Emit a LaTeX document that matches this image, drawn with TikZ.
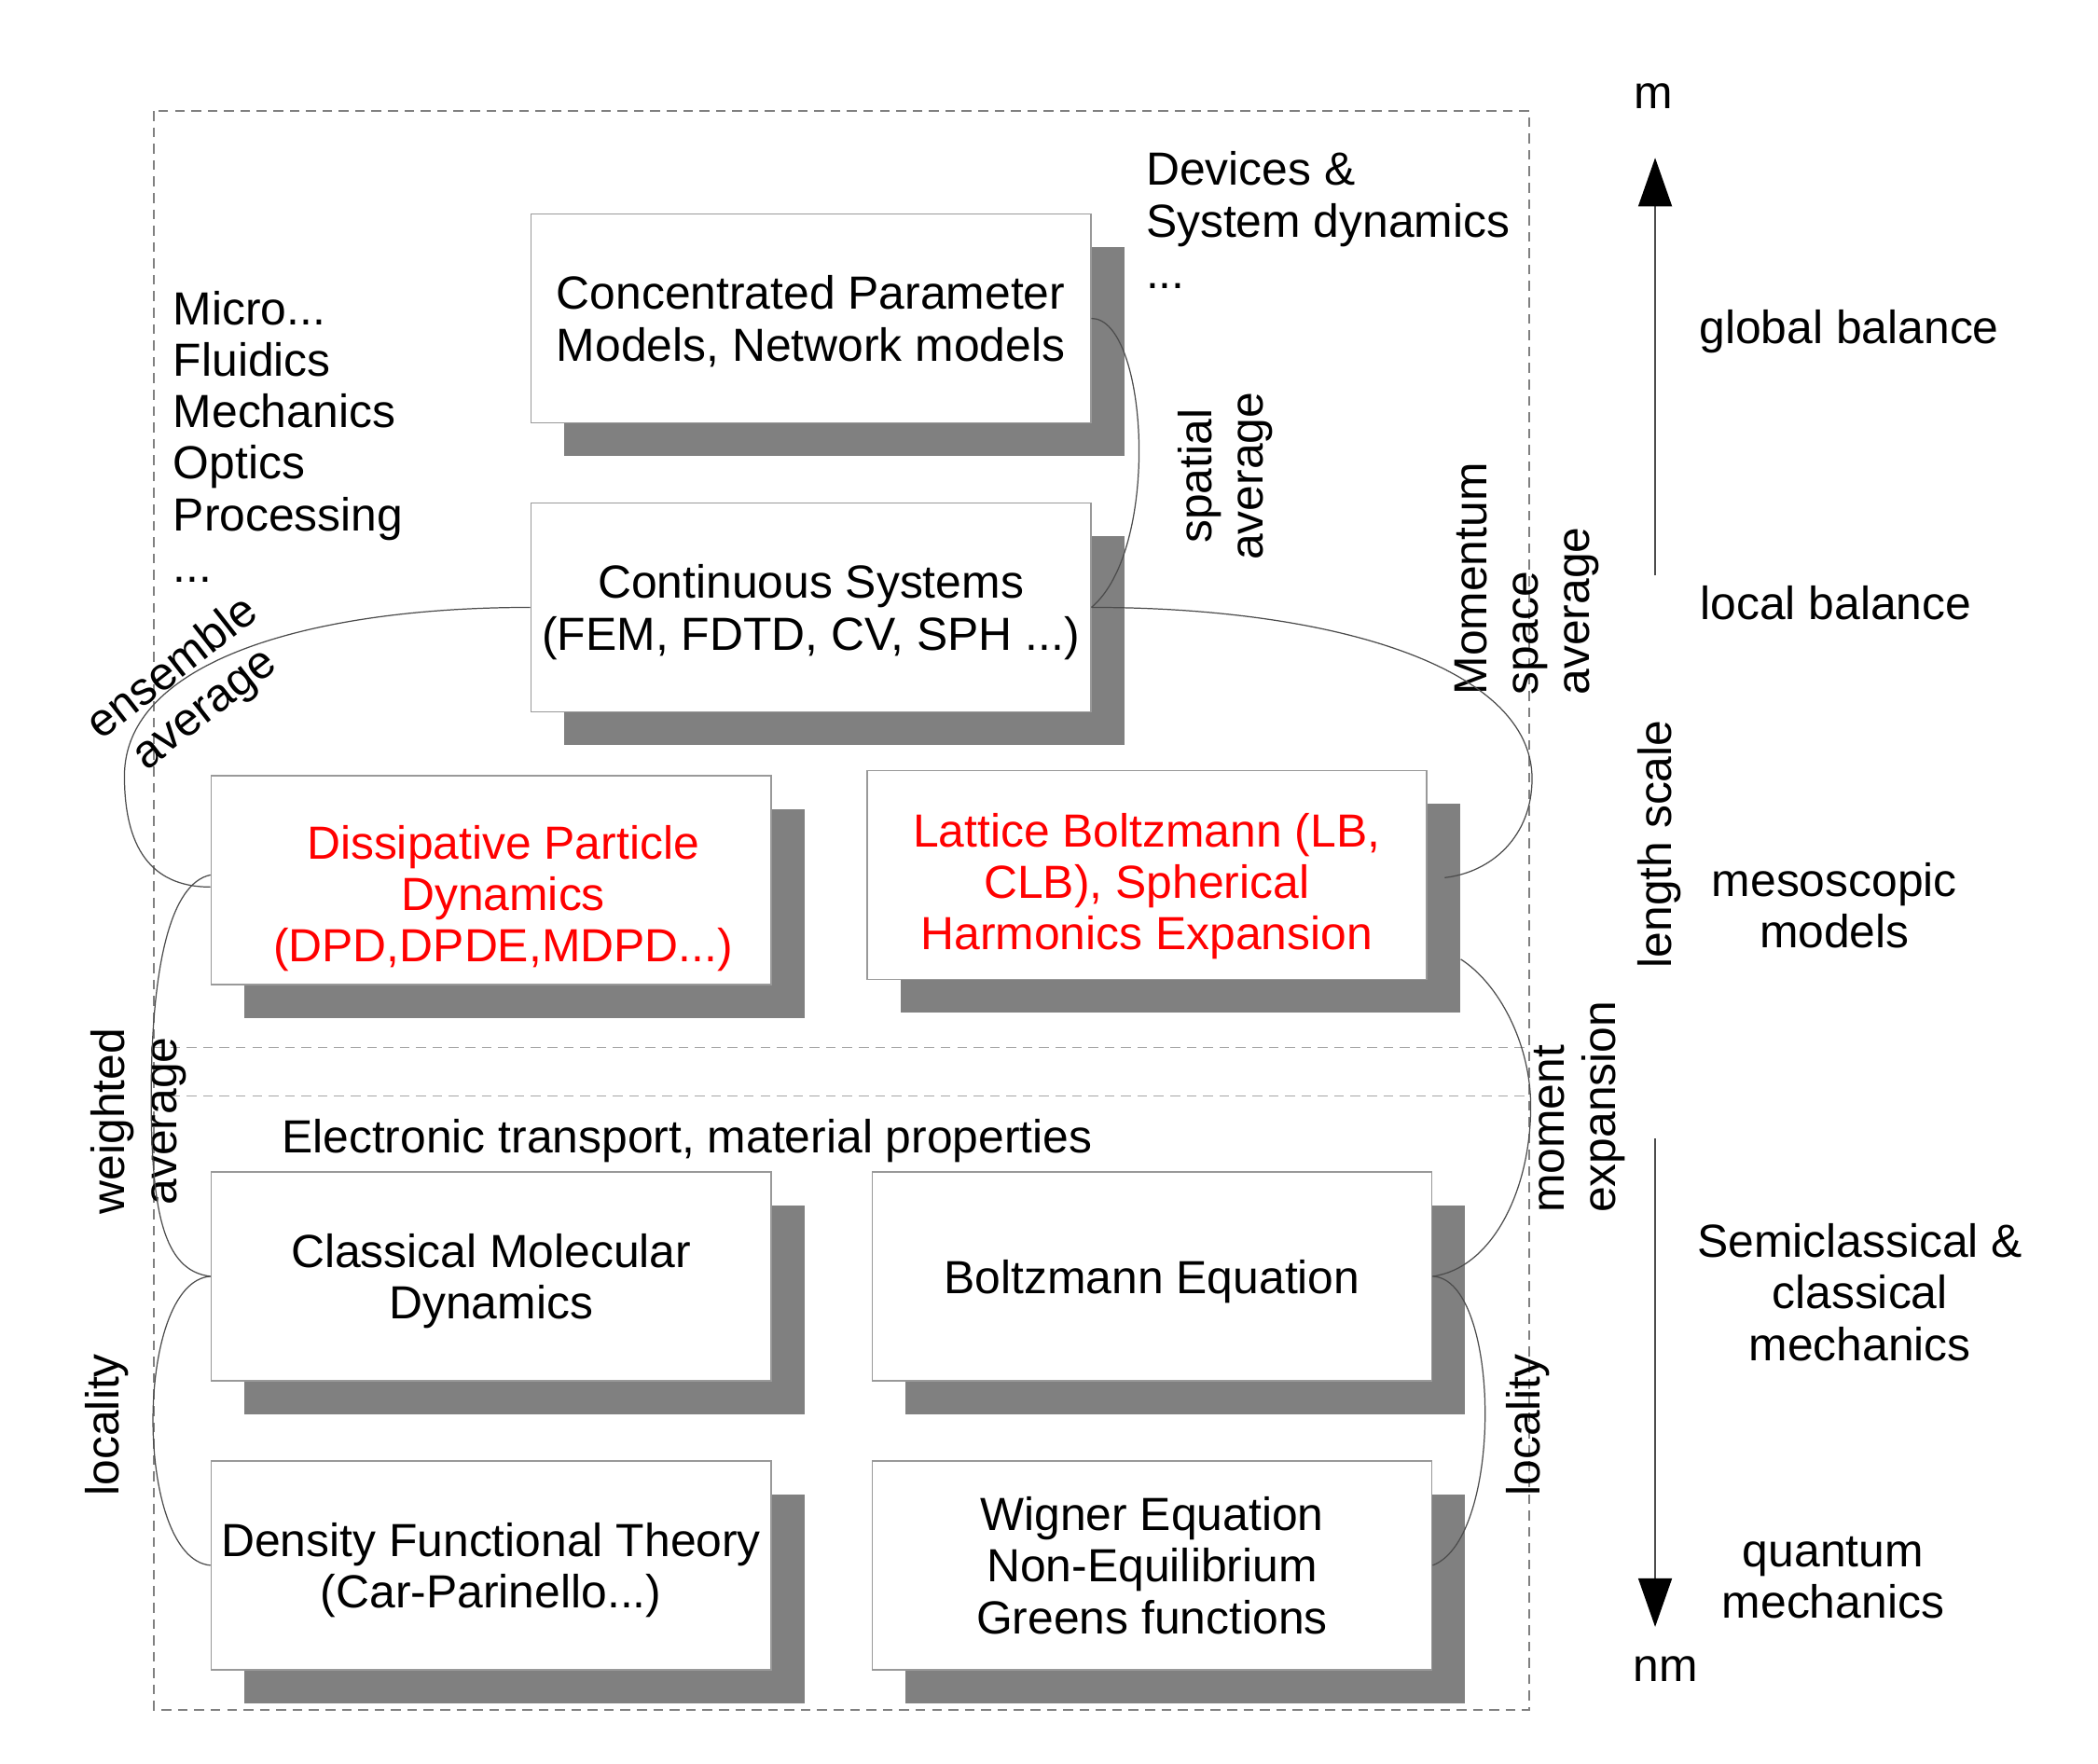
\documentclass[tikz,border=0pt]{standalone}
\usepackage{fontspec}
\setmainfont{Liberation Sans}
\usetikzlibrary{arrows.meta,shadows,calc}
\definecolor{shadowgray}{RGB}{128,128,128}
\definecolor{lbred}{RGB}{255,0,0}
\begin{document}
\begin{tikzpicture}[x=0.01435cm, y=-0.01435cm,
  font=\fontsize{14.17}{15.7}\selectfont,
  box/.style={draw=black!40, line width=0.5pt, fill=white,
    minimum width=5.998cm, minimum height=2.2386cm, inner sep=0pt, align=center,
    text depth=0pt,
    general shadow={fill=shadowgray, shadow xshift=0.3587cm, shadow yshift=-0.3587cm}},
  conn/.style={draw=black!70, line width=0.35pt},
  lbl/.style={inner sep=0pt, align=center},
  frame/.style={draw=black!50, line width=0.4pt, dash pattern=on 3pt off 2pt},
  sep/.style={draw=black!35, line width=0.4pt, dash pattern=on 3pt off 2pt},
  axis/.style={draw=black!70, line width=0.45pt, -{Triangle[length=0.52cm, width=0.36cm, black]}}]
\useasboundingbox (0,0) rectangle (1568,1318.5);

% frame and separators
\draw[frame] (115,83) rectangle (1143,1278);
\draw[sep] (115,783) -- (1143,783);
\draw[sep] (115,819) -- (1143,819);

% boxes
\node[box] (conc) at (606,238) {Concentrated Parameter\\Models, Network models};
\node[box] (cont) at (606,454) {Continuous Systems\\(FEM, FDTD, CV, SPH ...)};
\node[box] (dpd) at (367,658) {};
\node[lbl, text=lbred, text depth=0pt] (dpdT) at (376,668) {Dissipative Particle\\Dynamics\\(DPD,DPDE,MDPD...)};
\node[box, text=lbred] (lb) at (857,654) {};
\node[lbl, text=lbred, text depth=0pt] (lbT) at (857,659) {Lattice Boltzmann (LB,\\CLB), Spherical\\Harmonics Expansion};
\node[box] (md) at (367,954) {Classical Molecular\\Dynamics};
\node[box] (be) at (861,954) {Boltzmann Equation};
\node[box] (dft) at (367,1170) {Density Functional Theory\\(Car-Parinello...)};
\node[box] (we) at (861,1170) {Wigner Equation\\Non-Equilibrium\\Greens functions};

% free texts
\node[lbl, anchor=north west, align=left] (micro) at (129,217) {Micro...\\Fluidics\\Mechanics\\Optics\\Processing\\...};
\node[lbl, anchor=north west, align=left] (dev) at (856,113) {Devices \&\\System dynamics\\...};
\node[lbl, anchor=base] (elec) at (513.5,862) {Electronic transport, material properties};

\node[lbl, anchor=base] (m) at (1236,81) {m};
\node[lbl, anchor=base] (nm) at (1245,1257) {nm};
\node[lbl, anchor=base] (glob) at (1382,257) {global balance};
\node[lbl, anchor=base] (loc) at (1372,463) {local balance};
\node[lbl, rotate=90] (ls) at (1240,631) {length scale};
\node[lbl] (meso) at (1371,677) {mesoscopic\\models};
\node[lbl] (semi) at (1390,966) {Semiclassical \&\\classical\\mechanics};
\node[lbl] (qm) at (1370,1179) {quantum\\mechanics};

% connector labels
\node[lbl, rotate=90] (spat) at (916,356) {spatial\\average};
\node[lbl, rotate=90, anchor=west, align=left] (mom) at (1141,520) {Momentum\\space\\average};
\node[lbl, rotate=38] (ens) at (141.5,515.5) {ensemble\\average};
\node[lbl, rotate=90] (wav) at (103.5,838) {weighted\\average};
\node[lbl, rotate=90] (locl) at (80,1065) {locality};
\node[lbl, rotate=90, anchor=west, align=left] (mexp) at (1180.5,907) {moment\\expansion};
\node[lbl, rotate=90] (locr) at (1142,1065) {locality};

% connectors
\draw[conn] (conc.east) .. controls (858,238) and (868,410) .. (cont.east);
\draw[conn] (cont.east) .. controls (1000,454) and (1145,500) .. (1145,582)
  .. controls (1145,625) and (1115,652) .. ($(lb.east)+(13,2)$);
\draw[conn] ($(lb.east)+(25,63)$) .. controls (1120,735) and (1144,780) .. (1144,827)
  .. controls (1144,890) and (1115,948) .. (be.east);
\draw[conn] (be.east) .. controls (1122,956) and (1124,1150) .. (we.east);
\draw[conn] (cont.west) .. controls (230,454) and (93,495) .. (93,580)
  .. controls (93,640) and (118,663) .. ($(dpd.west)+(0,5)$);
\draw[conn] ($(dpd.west)+(0,-4)$) .. controls (128,660) and (113,720) .. (113,820)
  .. controls (113,905) and (122,950) .. (md.west);
\draw[conn] (md.west) .. controls (100,958) and (100,1165) .. (dft.west);

% length scale axis
\coordinate (upS) at (1237,430);
\coordinate (upE) at (1237,118);
\coordinate (dnS) at (1237,851);
\coordinate (dnE) at (1237,1216);
\draw[axis] (upS) -- (upE);
\draw[axis] (dnS) -- (dnE);
\end{tikzpicture}
\end{document}
